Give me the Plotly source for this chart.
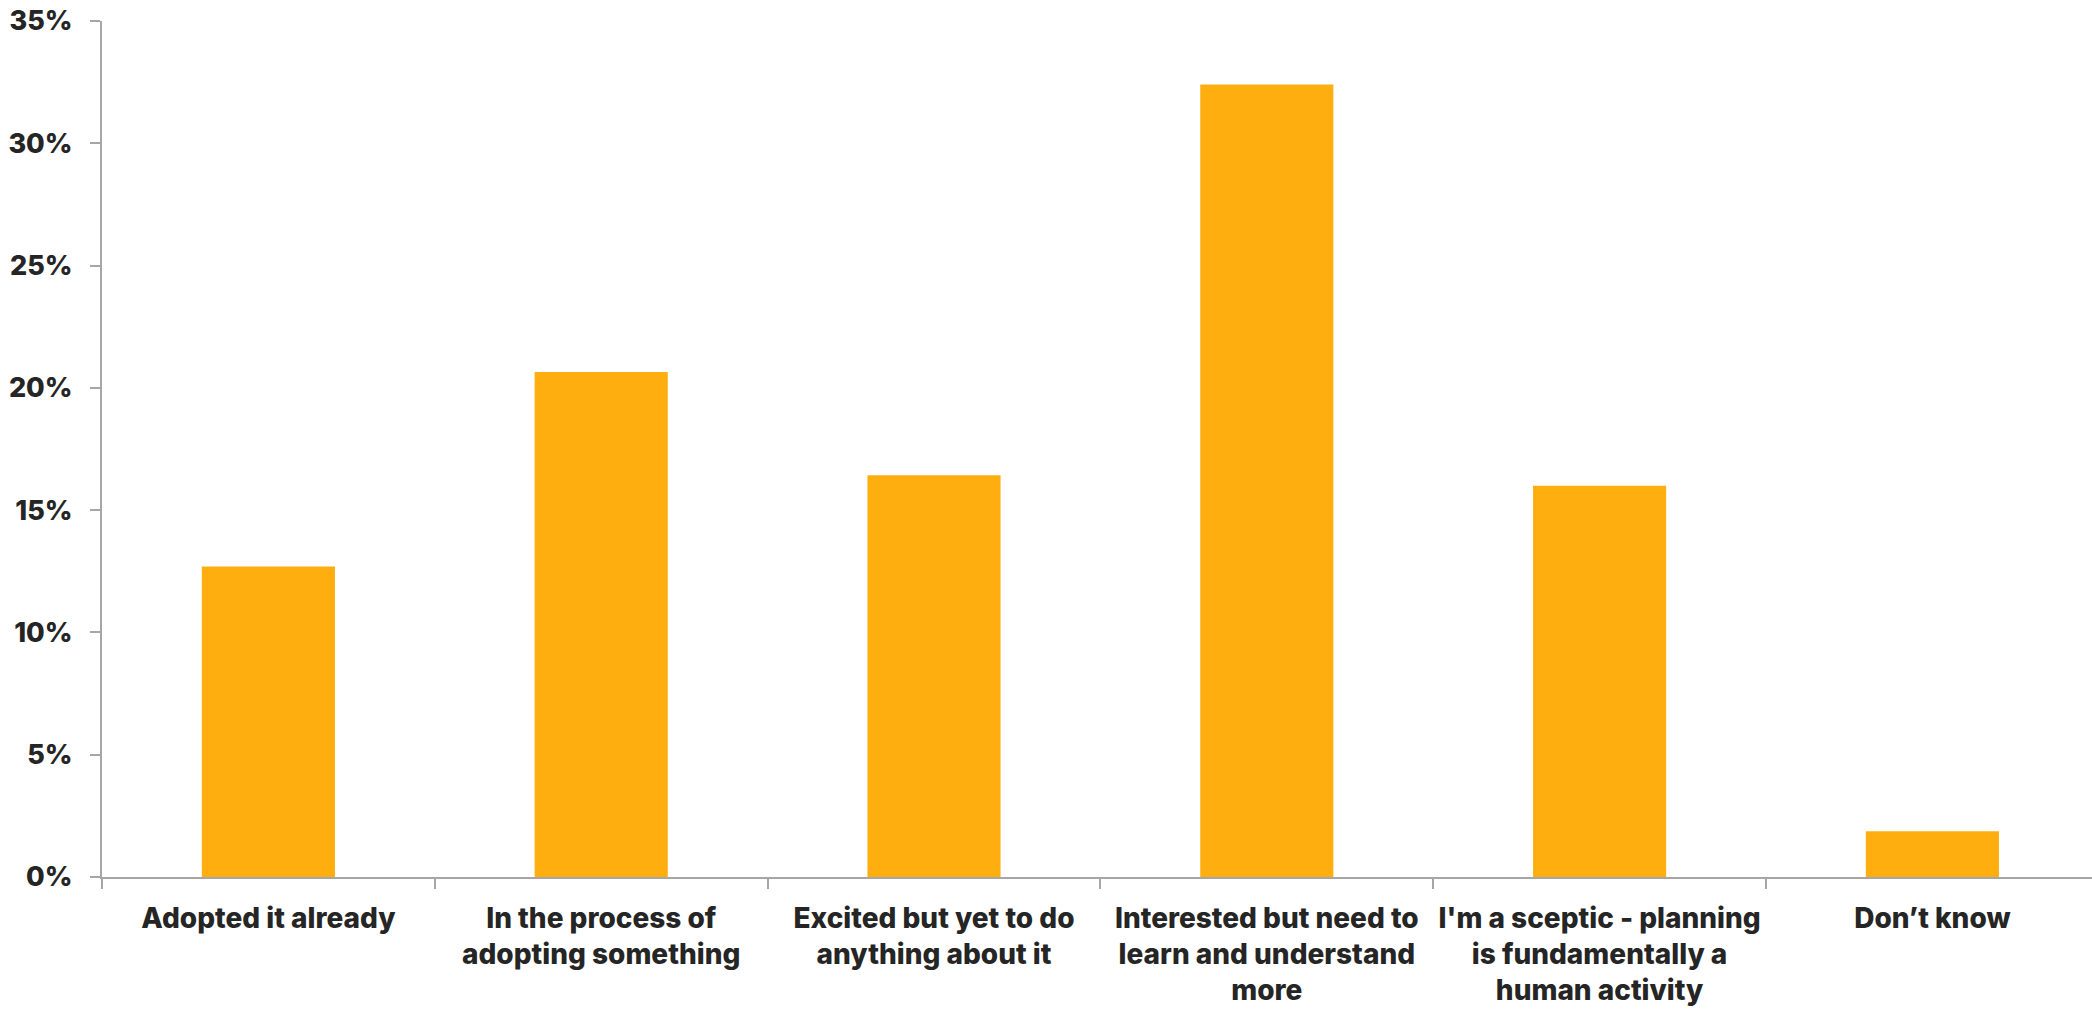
import plotly.graph_objects as go

categories = [
    "Adopted it already",
    "In the process of<br>adopting something",
    "Excited but yet to do<br>anything about it",
    "Interested but need to<br>learn and understand<br>more",
    "I'm a sceptic - planning<br>is fundamentally a<br>human activity",
    "Don\u2019t know",
]
values = [12.7, 20.65, 16.43, 32.4, 16.0, 1.87]
y_ticks = [0, 5, 10, 15, 20, 25, 30, 35]
y_tick_labels = [f"{v}%" for v in y_ticks]

BAR = "#FFAE10"
TEXT = "#252525"
AXIS = "#A6A6A6"
FONT = "Inter"

fig = go.Figure(
    go.Bar(x=categories, y=values, marker=dict(color=BAR, line=dict(width=0)))
)

plot_w = 2092 - 102
cat_w = 332.8
fig.update_layout(
    width=2092,
    height=1013,
    margin=dict(l=102, r=0, t=21, b=136, pad=0),
    paper_bgcolor="white",
    plot_bgcolor="white",
    bargap=0.6,
    showlegend=False,
    font=dict(family=FONT, color=TEXT, size=28, weight=800),
)
fig.update_xaxes(
    type="category",
    range=[-0.5, -0.5 + plot_w / cat_w],
    tickson="boundaries",
    ticks="outside",
    ticklen=10,
    tickcolor=AXIS,
    tickwidth=2,
    showline=True,
    linecolor=AXIS,
    linewidth=2,
    showgrid=False,
    zeroline=False,
    tickangle=0,
    ticklabelstandoff=15,
    tickfont=dict(family=FONT, size=28, color=TEXT, weight=800),
)
fig.update_yaxes(
    range=[0, 35],
    tickmode="array",
    tickvals=y_ticks,
    ticktext=y_tick_labels,
    ticks="outside",
    ticklen=10,
    tickcolor=AXIS,
    tickwidth=2,
    showline=True,
    linecolor=AXIS,
    linewidth=2,
    showgrid=False,
    zeroline=False,
    ticklabelstandoff=12,
    tickfont=dict(family=FONT, size=27, color=TEXT, weight=800),
)

fig.write_html("out.html")
